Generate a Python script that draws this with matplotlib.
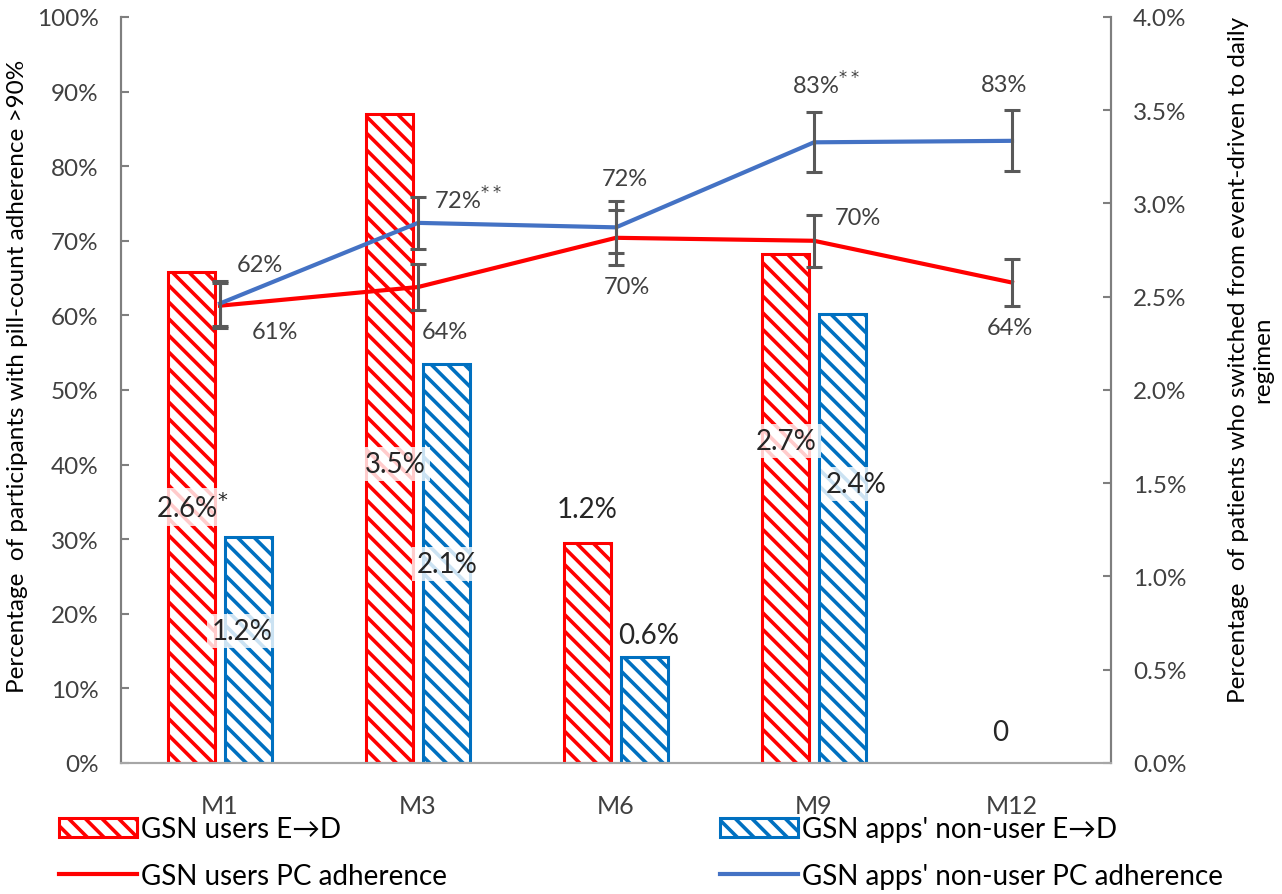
import numpy as np
import matplotlib
matplotlib.use("Agg")
import matplotlib.pyplot as plt
from matplotlib.patches import Patch
from matplotlib.lines import Line2D

# ---------------------------------------------------------------
#                             Data
# ---------------------------------------------------------------

months = ["M1", "M3", "M6", "M9", "M12"]

users_switch = [2.63, 3.48, 1.18, 2.73, 0.0]        # % switched E->D (right axis)
nonusers_switch = [1.21, 2.14, 0.57, 2.41, 0.0]

users_pc = [61.3, 63.8, 70.4, 70.0, 64.4]           # % PC adherence >90% (left axis)
nonusers_pc = [61.6, 72.4, 71.8, 83.2, 83.4]
users_err = [3.0, 3.1, 3.7, 3.5, 3.1]
nonusers_err = [3.0, 3.5, 3.5, 4.0, 4.1]

users_switch_mark = ["*", "", "", "", ""]
nonusers_pc_mark = ["", "**", "", "**", ""]

# ---------------------------------------------------------------
#          Label placement (x in category units, y in left-axis %)
# ---------------------------------------------------------------

users_bar_lbl_xy = [(-0.14, 34.3), (0.884, 40.1), (1.854, 34.0), (2.859, 43.2), (3.94, 4.2)]
nonusers_bar_lbl_xy = [(0.111, 17.7), (1.146, 26.7), (2.167, 17.2), (3.212, 37.4)]
users_pc_lbl_xy = [(0.278, 57.9), (1.136, 57.9), (2.056, 63.9), (3.222, 73.1), (3.99, 58.4)]
nonusers_pc_lbl_xy = [(0.202, 66.8), (1.253, 75.6), (2.045, 78.3), (3.061, 91.0), (3.96, 91.0)]

# ---------------------------------------------------------------
#                             Style
# ---------------------------------------------------------------

RED = "#FF0000"
BLUE_BAR = "#0070C0"
BLUE_LINE = "#4472C4"
ERR = "#595959"
TXT = "#404040"
AXC = "#7F7F7F"
HATCH = "\\\\"

plt.rcParams["font.family"] = ["Lato", "DejaVu Sans"]
plt.rcParams["hatch.linewidth"] = 2.6
plt.rcParams["text.color"] = TXT

fig = plt.figure(figsize=(12.82, 8.95), dpi=100)
ax = fig.add_axes([0.0944, 0.1464, 0.7722, 0.8335])
ax2 = ax.twinx()

x = np.arange(len(months))
w = 0.237
off = 0.143

# bars on the right axis
for vals, dx, col in [(users_switch, -off, RED), (nonusers_switch, off, BLUE_BAR)]:
    idx = [i for i, v in enumerate(vals) if v > 0]
    ax2.bar(x[idx] + dx, [vals[i] for i in idx], width=w, facecolor="white",
            edgecolor=col, hatch=HATCH, linewidth=2.2)

ax2.set_ylim(0, 4)
ax2.set_yticks(np.arange(0, 4.01, 0.5))
ax2.set_yticklabels([f"{v:.1f}%" for v in np.arange(0, 4.01, 0.5)])

# lines on the left axis (drawn above the bars)
ax.set_zorder(ax2.get_zorder() + 1)
ax.patch.set_visible(False)

ax.plot(x, users_pc, color=RED, lw=3.0, zorder=3)
ax.plot(x, nonusers_pc, color=BLUE_LINE, lw=3.0, zorder=3)
ax.errorbar(x, users_pc, yerr=users_err, fmt="none", ecolor=ERR, elinewidth=2.2,
            capsize=6, capthick=2.2, zorder=4)
ax.errorbar(x, nonusers_pc, yerr=nonusers_err, fmt="none", ecolor=ERR, elinewidth=2.2,
            capsize=6, capthick=2.2, zorder=4)

ax.set_ylim(0, 100)
ax.set_xlim(-0.5, len(months) - 0.5)
ax.set_yticks(np.arange(0, 101, 10))
ax.set_yticklabels([f"{v}%" for v in range(0, 101, 10)])
ax.set_xticks(x)
ax.set_xticklabels(months)

# bar labels
box = dict(boxstyle="square,pad=0.15", facecolor="white", edgecolor="none", alpha=0.8)


def fmt_switch(v):
    return "0" if v == 0 else f"{v:.1f}%"


for v, m, (lx, ly) in zip(users_switch, users_switch_mark, users_bar_lbl_xy):
    s = fmt_switch(v) + (f"$^{{{m}}}$" if m else "")
    ax.text(lx, ly, s, ha="center", va="center", fontsize=20, color="#262626",
            bbox=box, zorder=5)
for v, (lx, ly) in zip(nonusers_switch, nonusers_bar_lbl_xy):
    ax.text(lx, ly, fmt_switch(v), ha="center", va="center", fontsize=20,
            color="#262626", bbox=box, zorder=5)

# line labels
for v, (lx, ly) in zip(users_pc, users_pc_lbl_xy):
    ax.text(lx, ly, f"{round(v)}%", ha="center", va="center", fontsize=17, color=TXT)
for v, m, (lx, ly) in zip(nonusers_pc, nonusers_pc_mark, nonusers_pc_lbl_xy):
    s = f"{round(v)}%" + (f"$^{{{m}}}$" if m else "")
    ax.text(lx, ly, s, ha="center", va="center", fontsize=17, color=TXT)

# axes styling
for a in (ax, ax2):
    a.spines["top"].set_visible(False)
    a.spines["left"].set_color(AXC)
    a.spines["right"].set_color(AXC)
    a.spines["bottom"].set_color("#A6A6A6")
    for side in ("left", "right", "bottom"):
        a.spines[side].set_linewidth(1.5)

ax.tick_params(axis="y", direction="in", length=6, width=1.5, color=AXC,
               labelsize=17.5, labelcolor=TXT, pad=16)
ax.tick_params(axis="x", length=0, labelsize=18, labelcolor=TXT, pad=22)
ax2.tick_params(axis="y", direction="in", length=6, width=1.5, color=AXC,
                labelsize=17.5, labelcolor=TXT, pad=16)

ax.set_ylabel("Percentage  of participants with pill-count adherence >90%",
              fontsize=17.5, color="black")
ax.yaxis.set_label_coords(-0.094, 0.52)
ax2.set_ylabel("Percentage  of patients who switched from event-driven to daily\nregimen",
               fontsize=17.5, color="black", rotation=90, linespacing=1.2)
ax2.yaxis.set_label_coords(1.118, 0.542)

# legend
h1 = [Patch(facecolor="white", edgecolor=RED, hatch=HATCH, linewidth=2.2),
      Line2D([0], [0], color=RED, lw=3.0)]
h2 = [Patch(facecolor="white", edgecolor=BLUE_BAR, hatch=HATCH, linewidth=2.2),
      Line2D([0], [0], color=BLUE_LINE, lw=3.0)]
kw = dict(loc="upper left", frameon=False, fontsize=20, handlelength=2.8,
          handletextpad=0.15, labelspacing=0.75, borderpad=0, borderaxespad=0,
          labelcolor="black")
fig.legend(h1, ["GSN users E→D", "GSN users PC adherence"],
           bbox_to_anchor=(0.046, 0.087), **kw)
fig.legend(h2, ["GSN apps' non-user E→D", "GSN apps' non-user PC adherence"],
           bbox_to_anchor=(0.562, 0.087), **kw)

fig.savefig("out.png", dpi=100)
